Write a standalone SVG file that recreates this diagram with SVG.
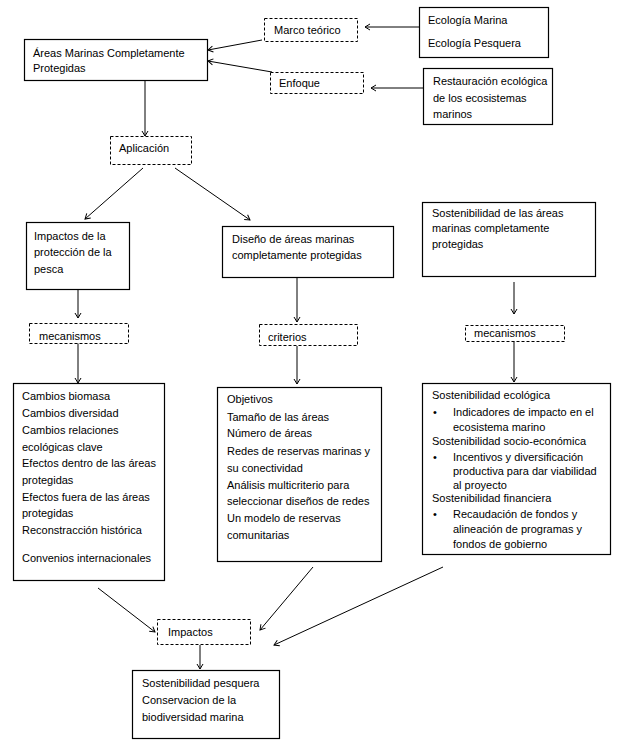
<svg xmlns="http://www.w3.org/2000/svg" width="626" height="749" viewBox="0 0 626 749">
<style>
.box{fill:#fff;stroke:#000;stroke-width:1.2}
.dash{fill:#fff;stroke:#000;stroke-width:1;stroke-dasharray:3,2}
text{font-family:"Liberation Sans",Arial,sans-serif;font-size:11px;fill:#000}
.c{fill:none;stroke:#000;stroke-width:1}
</style>
<defs>
<marker id="a" markerWidth="8" markerHeight="8" refX="7" refY="4" orient="auto" markerUnits="userSpaceOnUse">
<path d="M2,1 L7,4 L2,7" fill="none" stroke="#000" stroke-width="1"/>
</marker>
</defs>
<rect width="626" height="749" fill="#fff"/>
<g id="connectors">
<line class="c" x1="419" y1="27" x2="365" y2="27" marker-end="url(#a)"/>
<line class="c" x1="423" y1="88" x2="371" y2="88" marker-end="url(#a)"/>
<line class="c" x1="262" y1="40" x2="208" y2="50" marker-end="url(#a)"/>
<line class="c" x1="272" y1="72" x2="208" y2="61" marker-end="url(#a)"/>
<line class="c" x1="145" y1="81" x2="145" y2="136" marker-end="url(#a)"/>
<line class="c" x1="143" y1="168" x2="85" y2="219" marker-end="url(#a)"/>
<line class="c" x1="175" y1="168" x2="250" y2="220" marker-end="url(#a)"/>
<line class="c" x1="78" y1="289" x2="78" y2="318" marker-end="url(#a)"/>
<line class="c" x1="78" y1="343" x2="78" y2="383" marker-end="url(#a)"/>
<line class="c" x1="297" y1="277" x2="297" y2="322" marker-end="url(#a)"/>
<line class="c" x1="297" y1="346" x2="297" y2="384" marker-end="url(#a)"/>
<line class="c" x1="514" y1="282" x2="514" y2="314" marker-end="url(#a)"/>
<line class="c" x1="514" y1="341" x2="514" y2="382" marker-end="url(#a)"/>
<line class="c" x1="98" y1="588" x2="155" y2="632" marker-end="url(#a)"/>
<line class="c" x1="313" y1="567" x2="260" y2="630" marker-end="url(#a)"/>
<line class="c" x1="443" y1="567" x2="274" y2="645" marker-end="url(#a)"/>
<line class="c" x1="200" y1="645" x2="200" y2="669" marker-end="url(#a)"/>
</g>
<g id="areas">
<rect class="box" x="24.5" y="39.5" width="183" height="41"/>
<text x="33" y="57">Áreas Marinas Completamente</text>
<text x="33" y="72">Protegidas</text>
</g>
<g id="marco">
<rect class="dash" x="264.5" y="18.5" width="93" height="23"/>
<text x="274" y="34">Marco teórico</text>
</g>
<g id="enfoque">
<rect class="dash" x="270.5" y="72.5" width="93" height="21"/>
<text x="279" y="87">Enfoque</text>
</g>
<g id="ecologia">
<rect class="box" x="419.5" y="7.5" width="129" height="50"/>
<text x="428" y="24">Ecología Marina</text>
<text x="428" y="47">Ecología Pesquera</text>
</g>
<g id="restauracion">
<rect class="box" x="423.5" y="68.5" width="129" height="56"/>
<text x="433" y="85">Restauración ecológica</text>
<text x="433" y="102">de los ecosistemas</text>
<text x="433" y="118">marinos</text>
</g>
<g id="aplicacion">
<rect class="dash" x="110.5" y="136.5" width="81" height="28"/>
<text x="119" y="152">Aplicación</text>
</g>
<g id="impactos-pesca">
<rect class="box" x="26.5" y="222.5" width="103" height="67"/>
<text x="34" y="240">Impactos de la</text>
<text x="34" y="256">protección de la</text>
<text x="34" y="273">pesca</text>
</g>
<g id="mecanismos1">
<rect class="dash" x="29.5" y="323.5" width="99" height="20"/>
<text x="39" y="340">mecanismos</text>
</g>
<g id="cambios">
<rect class="box" x="13.5" y="383.5" width="151" height="197"/>
<text x="22" y="400">Cambios biomasa</text>
<text x="22" y="417">Cambios diversidad</text>
<text x="22" y="434">Cambios relaciones</text>
<text x="22" y="451">ecológicas clave</text>
<text x="22" y="467">Efectos dentro de las áreas</text>
<text x="22" y="484">protegidas</text>
<text x="22" y="501">Efectos fuera de las áreas</text>
<text x="22" y="517">protegidas</text>
<text x="22" y="534">Reconstracción histórica</text>
<text x="22" y="562">Convenios internacionales</text>
</g>
<g id="diseno">
<rect class="box" x="222.5" y="226.5" width="171" height="51"/>
<text x="232" y="243">Diseño de áreas marinas</text>
<text x="232" y="259">completamente protegidas</text>
</g>
<g id="criterios">
<rect class="dash" x="259.5" y="324.5" width="98" height="21"/>
<text x="268" y="341">criterios</text>
</g>
<g id="objetivos">
<rect class="box" x="217.5" y="387.5" width="164" height="174"/>
<text x="227" y="403">Objetivos</text>
<text x="227" y="421">Tamaño de las áreas</text>
<text x="227" y="437">Número de áreas</text>
<text x="227" y="455">Redes de reservas marinas y</text>
<text x="227" y="472">su conectividad</text>
<text x="227" y="489">Análisis multicriterio para</text>
<text x="227" y="505">seleccionar diseños de redes</text>
<text x="227" y="522">Un modelo de reservas</text>
<text x="227" y="539">comunitarias</text>
</g>
<g id="sostenibilidad-areas">
<rect class="box" x="422.5" y="202.5" width="173" height="74"/>
<text x="432" y="217">Sostenibilidad de las áreas</text>
<text x="432" y="232">marinas completamente</text>
<text x="432" y="248">protegidas</text>
</g>
<g id="mecanismos2">
<rect class="dash" x="465.5" y="325.5" width="99" height="16"/>
<text x="474" y="337">mecanismos</text>
</g>
<g id="sostenibilidad-tipos">
<rect class="box" x="422.5" y="383.5" width="188" height="171"/>
<text x="432" y="399">Sostenibilidad ecológica</text>
<text x="433" y="416">•</text><text x="453" y="416">Indicadores de impacto en el</text>
<text x="453" y="431">ecosistema marino</text>
<text x="432" y="445">Sostenibilidad socio-económica</text>
<text x="433" y="461">•</text><text x="453" y="461">Incentivos y diversificación</text>
<text x="453" y="475">productiva para dar viabilidad</text>
<text x="453" y="489">al proyecto</text>
<text x="432" y="502">Sostenibilidad financiera</text>
<text x="433" y="518">•</text><text x="453" y="518">Recaudación de fondos y</text>
<text x="453" y="533">alineación de programas y</text>
<text x="453" y="548">fondos de gobierno</text>
</g>
<g id="impactos">
<rect class="dash" x="157.5" y="619.5" width="93" height="25"/>
<text x="168" y="636">Impactos</text>
</g>
<g id="resultado">
<rect class="box" x="132.5" y="670.5" width="147" height="68"/>
<text x="142" y="687">Sostenibilidad pesquera</text>
<text x="142" y="704">Conservacion de la</text>
<text x="142" y="721">biodiversidad marina</text>
</g>
</svg>
